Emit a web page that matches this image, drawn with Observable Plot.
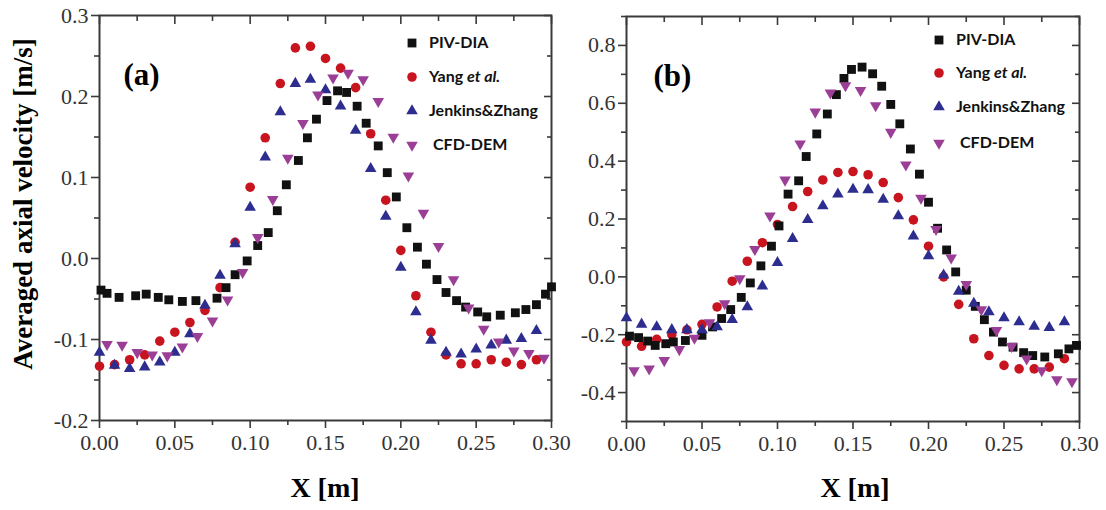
<!DOCTYPE html>
<html><head><meta charset="utf-8">
<script src="https://cdn.jsdelivr.net/npm/d3@7"></script>
<script src="https://cdn.jsdelivr.net/npm/@observablehq/plot@0.6"></script>
<style>
body{margin:0;background:#fff;}
#root{position:relative;width:1106px;height:510px;overflow:hidden;background:#fff;}
.panel{position:absolute;top:0;}
.lbl{position:absolute;font-family:"Liberation Serif","Times New Roman",serif;font-weight:bold;color:#000;white-space:nowrap;line-height:1;}
.leg{position:absolute;font-family:Lato,"Open Sans",sans-serif;font-weight:bold;font-size:16px;color:#111;white-space:nowrap;line-height:1;}
.legsym{position:absolute;}
</style></head><body><div id="root"></div>
<script>
// ---------- tick values ----------
const xMajorTicks = [0, 0.05, 0.10, 0.15, 0.20, 0.25, 0.30];
const xMinorTicks = [0.025, 0.075, 0.125, 0.175, 0.225, 0.275];
const aYMajorTicks = [-0.2, -0.1, 0.0, 0.1, 0.2, 0.3];
const aYMinorTicks = [-0.15, -0.05, 0.05, 0.15, 0.25];
const bYMajorTicks = [-0.4, -0.2, 0.0, 0.2, 0.4, 0.6, 0.8];
const bYMinorTicks = [-0.5, -0.3, -0.1, 0.1, 0.3, 0.5, 0.7, 0.9];

const seriesNames = ["PIV-DIA", "Yang et al.", "Jenkins&Zhang", "CFD-DEM"];

// ---------- panel (a) ----------
const aPivX = [0.001,0.005,0.013,0.024,0.031,0.039,0.046,0.055,0.064,0.078,0.084,0.090,0.098,0.105,0.112,0.118,0.124,0.132,0.138,0.144,0.151,0.158,0.164,0.171,0.177,0.185,0.191,0.197,0.204,0.211,0.217,0.224,0.230,0.237,0.243,0.251,0.257,0.266,0.276,0.283,0.290,0.296,0.300];
const aPivY = [-0.039,-0.043,-0.048,-0.046,-0.044,-0.048,-0.051,-0.053,-0.052,-0.049,-0.036,-0.020,-0.003,0.016,0.032,0.059,0.091,0.121,0.149,0.172,0.195,0.207,0.205,0.188,0.167,0.139,0.106,0.076,0.038,0.014,-0.007,-0.026,-0.042,-0.052,-0.060,-0.066,-0.072,-0.070,-0.067,-0.063,-0.057,-0.044,-0.035];

const aYangX = [0.00,0.01,0.02,0.03,0.04,0.05,0.06,0.07,0.08,0.09,0.10,0.11,0.12,0.13,0.14,0.15,0.16,0.17,0.18,0.19,0.20,0.21,0.22,0.23,0.24,0.25,0.26,0.27,0.28,0.29];
const aYangY = [-0.133,-0.131,-0.125,-0.119,-0.102,-0.091,-0.079,-0.064,-0.036,0.020,0.088,0.149,0.216,0.260,0.262,0.247,0.235,0.211,0.154,0.072,0.010,-0.046,-0.091,-0.119,-0.130,-0.130,-0.125,-0.128,-0.131,-0.125];

const aJenX = [0.00,0.01,0.02,0.03,0.04,0.05,0.06,0.07,0.08,0.09,0.10,0.11,0.12,0.13,0.14,0.15,0.16,0.17,0.18,0.19,0.20,0.21,0.22,0.23,0.24,0.25,0.26,0.27,0.28,0.29];
const aJenY = [-0.116,-0.132,-0.136,-0.134,-0.128,-0.116,-0.093,-0.058,-0.021,0.018,0.063,0.125,0.181,0.216,0.221,0.208,0.188,0.158,0.111,0.052,-0.011,-0.066,-0.101,-0.116,-0.118,-0.112,-0.107,-0.101,-0.099,-0.089];

const aCfdX = [0.005,0.015,0.025,0.035,0.045,0.055,0.065,0.075,0.085,0.095,0.105,0.115,0.125,0.135,0.145,0.155,0.165,0.175,0.185,0.195,0.205,0.215,0.225,0.235,0.245,0.255,0.265,0.275,0.285,0.295];
const aCfdY = [-0.106,-0.107,-0.116,-0.119,-0.120,-0.109,-0.096,-0.077,-0.051,-0.017,0.026,0.073,0.124,0.167,0.202,0.223,0.229,0.221,0.194,0.150,0.102,0.056,0.015,-0.026,-0.061,-0.087,-0.103,-0.114,-0.117,-0.123];

// ---------- panel (b) ----------
const bPivX = [0.002,0.008,0.014,0.019,0.026,0.031,0.039,0.050,0.057,0.063,0.069,0.076,0.082,0.089,0.096,0.101,0.107,0.114,0.119,0.126,0.133,0.139,0.144,0.149,0.156,0.163,0.169,0.175,0.181,0.188,0.194,0.200,0.206,0.212,0.218,0.225,0.231,0.237,0.243,0.249,0.256,0.263,0.269,0.277,0.286,0.293,0.298];
const bPivY = [-0.205,-0.210,-0.222,-0.237,-0.231,-0.225,-0.220,-0.202,-0.173,-0.144,-0.113,-0.071,-0.021,0.038,0.106,0.176,0.286,0.332,0.416,0.494,0.563,0.630,0.686,0.717,0.725,0.702,0.659,0.596,0.529,0.442,0.355,0.258,0.168,0.093,0.017,-0.046,-0.102,-0.148,-0.191,-0.225,-0.243,-0.262,-0.272,-0.277,-0.266,-0.249,-0.237];

const bYangX = [0.00,0.01,0.02,0.03,0.04,0.05,0.06,0.07,0.08,0.09,0.10,0.11,0.12,0.13,0.14,0.15,0.16,0.17,0.18,0.19,0.20,0.21,0.22,0.23,0.24,0.25,0.26,0.27,0.28,0.29];
const bYangY = [-0.225,-0.240,-0.216,-0.200,-0.183,-0.164,-0.104,-0.015,0.054,0.118,0.181,0.243,0.295,0.335,0.361,0.364,0.353,0.326,0.274,0.197,0.106,0.000,-0.095,-0.214,-0.272,-0.306,-0.318,-0.318,-0.312,-0.283];

const bJenX = [0.00,0.01,0.02,0.03,0.04,0.05,0.06,0.07,0.08,0.09,0.10,0.11,0.12,0.13,0.14,0.15,0.16,0.17,0.18,0.19,0.20,0.21,0.22,0.23,0.24,0.25,0.26,0.27,0.28,0.29];
const bJenY = [-0.142,-0.164,-0.173,-0.183,-0.183,-0.183,-0.173,-0.148,-0.104,-0.032,0.049,0.132,0.198,0.245,0.286,0.302,0.301,0.268,0.211,0.141,0.072,0.006,-0.050,-0.092,-0.121,-0.142,-0.156,-0.171,-0.176,-0.156];

const bCfdX = [0.005,0.015,0.025,0.035,0.045,0.055,0.065,0.075,0.085,0.095,0.105,0.115,0.125,0.135,0.145,0.155,0.165,0.175,0.185,0.195,0.205,0.215,0.225,0.235,0.245,0.255,0.265,0.275,0.285,0.295];
const bCfdY = [-0.324,-0.318,-0.289,-0.251,-0.212,-0.158,-0.092,-0.006,0.095,0.211,0.335,0.460,0.570,0.636,0.661,0.645,0.592,0.500,0.387,0.272,0.164,0.066,-0.026,-0.113,-0.185,-0.240,-0.283,-0.324,-0.355,-0.362];

// ---------- styling ----------
const COL = {piv:"#111111", yang:"#c8141e", jen:"#2d2d8f", cfd:"#9b3f96"};
const AX = "#3a3a3a";
const SERIF = '"Liberation Serif","Times New Roman",serif';

function pts(xs, ys){ return xs.map((x,i)=>({x, y: ys[i]})); }

function makePanel(cfg){
  const {width, ml, mr, mt, mb, yDomain, yMajor, yMinor, piv, yang, jen, cfd, tag, tagDx} = cfg;
  const fmt1 = d => d.toFixed(1);
  const fmt2 = d => d.toFixed(2);
  const blank = () => "";
  const txt = {fontFamily: SERIF, fontSize: 22, fill: "#333"};
  return Plot.plot({
    width, height: 510,
    marginLeft: ml, marginRight: mr, marginTop: mt, marginBottom: mb,
    x: {domain: [0, 0.3]},
    y: {domain: yDomain},
    style: {fontFamily: SERIF, fontSize: "22px", color: AX, background: "transparent", overflow: "visible"},
    marks: [
      Plot.axisX({anchor: "bottom", ticks: xMajorTicks, tickSize: 8, tickPadding: 6, tickFormat: fmt2, label: null, strokeWidth: 1.6, ...txt}),
      Plot.axisX({anchor: "bottom", ticks: xMinorTicks, tickSize: 5, tickFormat: blank, label: null, strokeWidth: 1.6}),
      Plot.axisX({anchor: "top", ticks: xMajorTicks, tickSize: -8, tickFormat: blank, label: null, strokeWidth: 1.6}),
      Plot.axisX({anchor: "top", ticks: xMinorTicks, tickSize: -5, tickFormat: blank, label: null, strokeWidth: 1.6}),
      Plot.axisY({anchor: "left", ticks: yMajor, tickSize: 8, tickPadding: 3, tickFormat: fmt1, label: null, strokeWidth: 1.6, ...txt}),
      Plot.axisY({anchor: "left", ticks: yMinor, tickSize: 5, tickFormat: blank, label: null, strokeWidth: 1.6}),
      Plot.axisY({anchor: "right", ticks: yMajor, tickSize: -8, tickFormat: blank, label: null, strokeWidth: 1.6}),
      Plot.axisY({anchor: "right", ticks: yMinor, tickSize: -5, tickFormat: blank, label: null, strokeWidth: 1.6}),
      Plot.frame({stroke: AX, strokeWidth: 2}),
      Plot.dot(yang, {x: "x", y: "y", symbol: "circle", r: 4.8, fill: COL.yang}),
      Plot.dot(piv, {x: "x", y: "y", symbol: "square", r: 5.0, fill: COL.piv}),
      Plot.dot(jen, {x: "x", y: "y", symbol: "triangle", r: 4.3, fill: COL.jen}),
      Plot.dot(cfd, {x: "x", y: "y", symbol: "triangle", r: 4.3, rotate: 180, fill: COL.cfd}),
      Plot.text([tag], {text: d => d, frameAnchor: "top-left", dx: tagDx, dy: 47, textAnchor: "start",
        fontFamily: SERIF, fontWeight: "bold", fontSize: 31, fill: "#000"})
    ]
  });
}

const root = document.getElementById("root");

const svgA = makePanel({width: 560, ml: 99, mr: 9, mt: 15, mb: 90,
  yDomain: [-0.2, 0.3], yMajor: aYMajorTicks, yMinor: aYMinorTicks,
  piv: pts(aPivX, aPivY), yang: pts(aYangX, aYangY), jen: pts(aJenX, aJenY), cfd: pts(aCfdX, aCfdY),
  tag: "(a)", tagDx: 24});
svgA.classList.add("panel"); svgA.style.left = "0px";
root.appendChild(svgA);

const svgB = makePanel({width: 546, ml: 66, mr: 27, mt: 16, mb: 89,
  yDomain: [-0.5, 0.9], yMajor: bYMajorTicks, yMinor: bYMinorTicks,
  piv: pts(bPivX, bPivY), yang: pts(bYangX, bYangY), jen: pts(bJenX, bJenY), cfd: pts(bCfdX, bCfdY),
  tag: "(b)", tagDx: 27});
svgB.classList.add("panel"); svgB.style.left = "560px";
root.appendChild(svgB);

// ---------- titles ----------
function addLabel(text, css){
  const d = document.createElement("div");
  d.className = "lbl"; d.textContent = text;
  Object.assign(d.style, css);
  root.appendChild(d);
  return d;
}
const yt = addLabel("Averaged axial velocity [m/s]", {fontSize: "27px"});
yt.style.left = "23px"; yt.style.top = "204px";
yt.style.transform = "translate(-50%,-50%) rotate(-90deg)";
const xa = addLabel("X [m]", {fontSize: "28px"});
xa.style.left = "325px"; xa.style.top = "488px"; xa.style.transform = "translate(-50%,-50%)";
const xb = addLabel("X [m]", {fontSize: "28px"});
xb.style.left = "855px"; xb.style.top = "488px"; xb.style.transform = "translate(-50%,-50%)";

// ---------- legends ----------
const legendSym = [
  {key: "piv", sym: d3.symbolSquare, size: 78, rot: 0},
  {key: "yang", sym: d3.symbolCircle, size: 72, rot: 0},
  {key: "jen", sym: d3.symbolTriangle, size: 58, rot: 0},
  {key: "cfd", sym: d3.symbolTriangle, size: 58, rot: 180}
];
function addLegend(symX, textX, rows, textDx){
  seriesNames.forEach((name, i) => {
    const s = legendSym[i];
    const svg = d3.create("svg").attr("width", 20).attr("height", 20).attr("class", "legsym")
      .style("left", (symX - 10) + "px").style("top", (rows[i] - 10) + "px");
    svg.append("path").attr("d", d3.symbol(s.sym, s.size)())
      .attr("transform", `translate(10,10) rotate(${s.rot})`).attr("fill", COL[s.key]);
    root.appendChild(svg.node());
    const t = document.createElement("div");
    t.className = "leg";
    t.style.left = (textX + (i === 3 ? textDx : 0)) + "px";
    t.style.top = (rows[i] - 9) + "px";
    if (name === "Yang et al.") {
      t.innerHTML = 'Yang <i>et al.</i>';
    } else {
      t.textContent = name;
    }
    root.appendChild(t);
  });
}
addLegend(412, 429, [43, 77, 111, 145], 4);
addLegend(939, 956, [40, 73, 107, 143], 4);
</script></body></html>
